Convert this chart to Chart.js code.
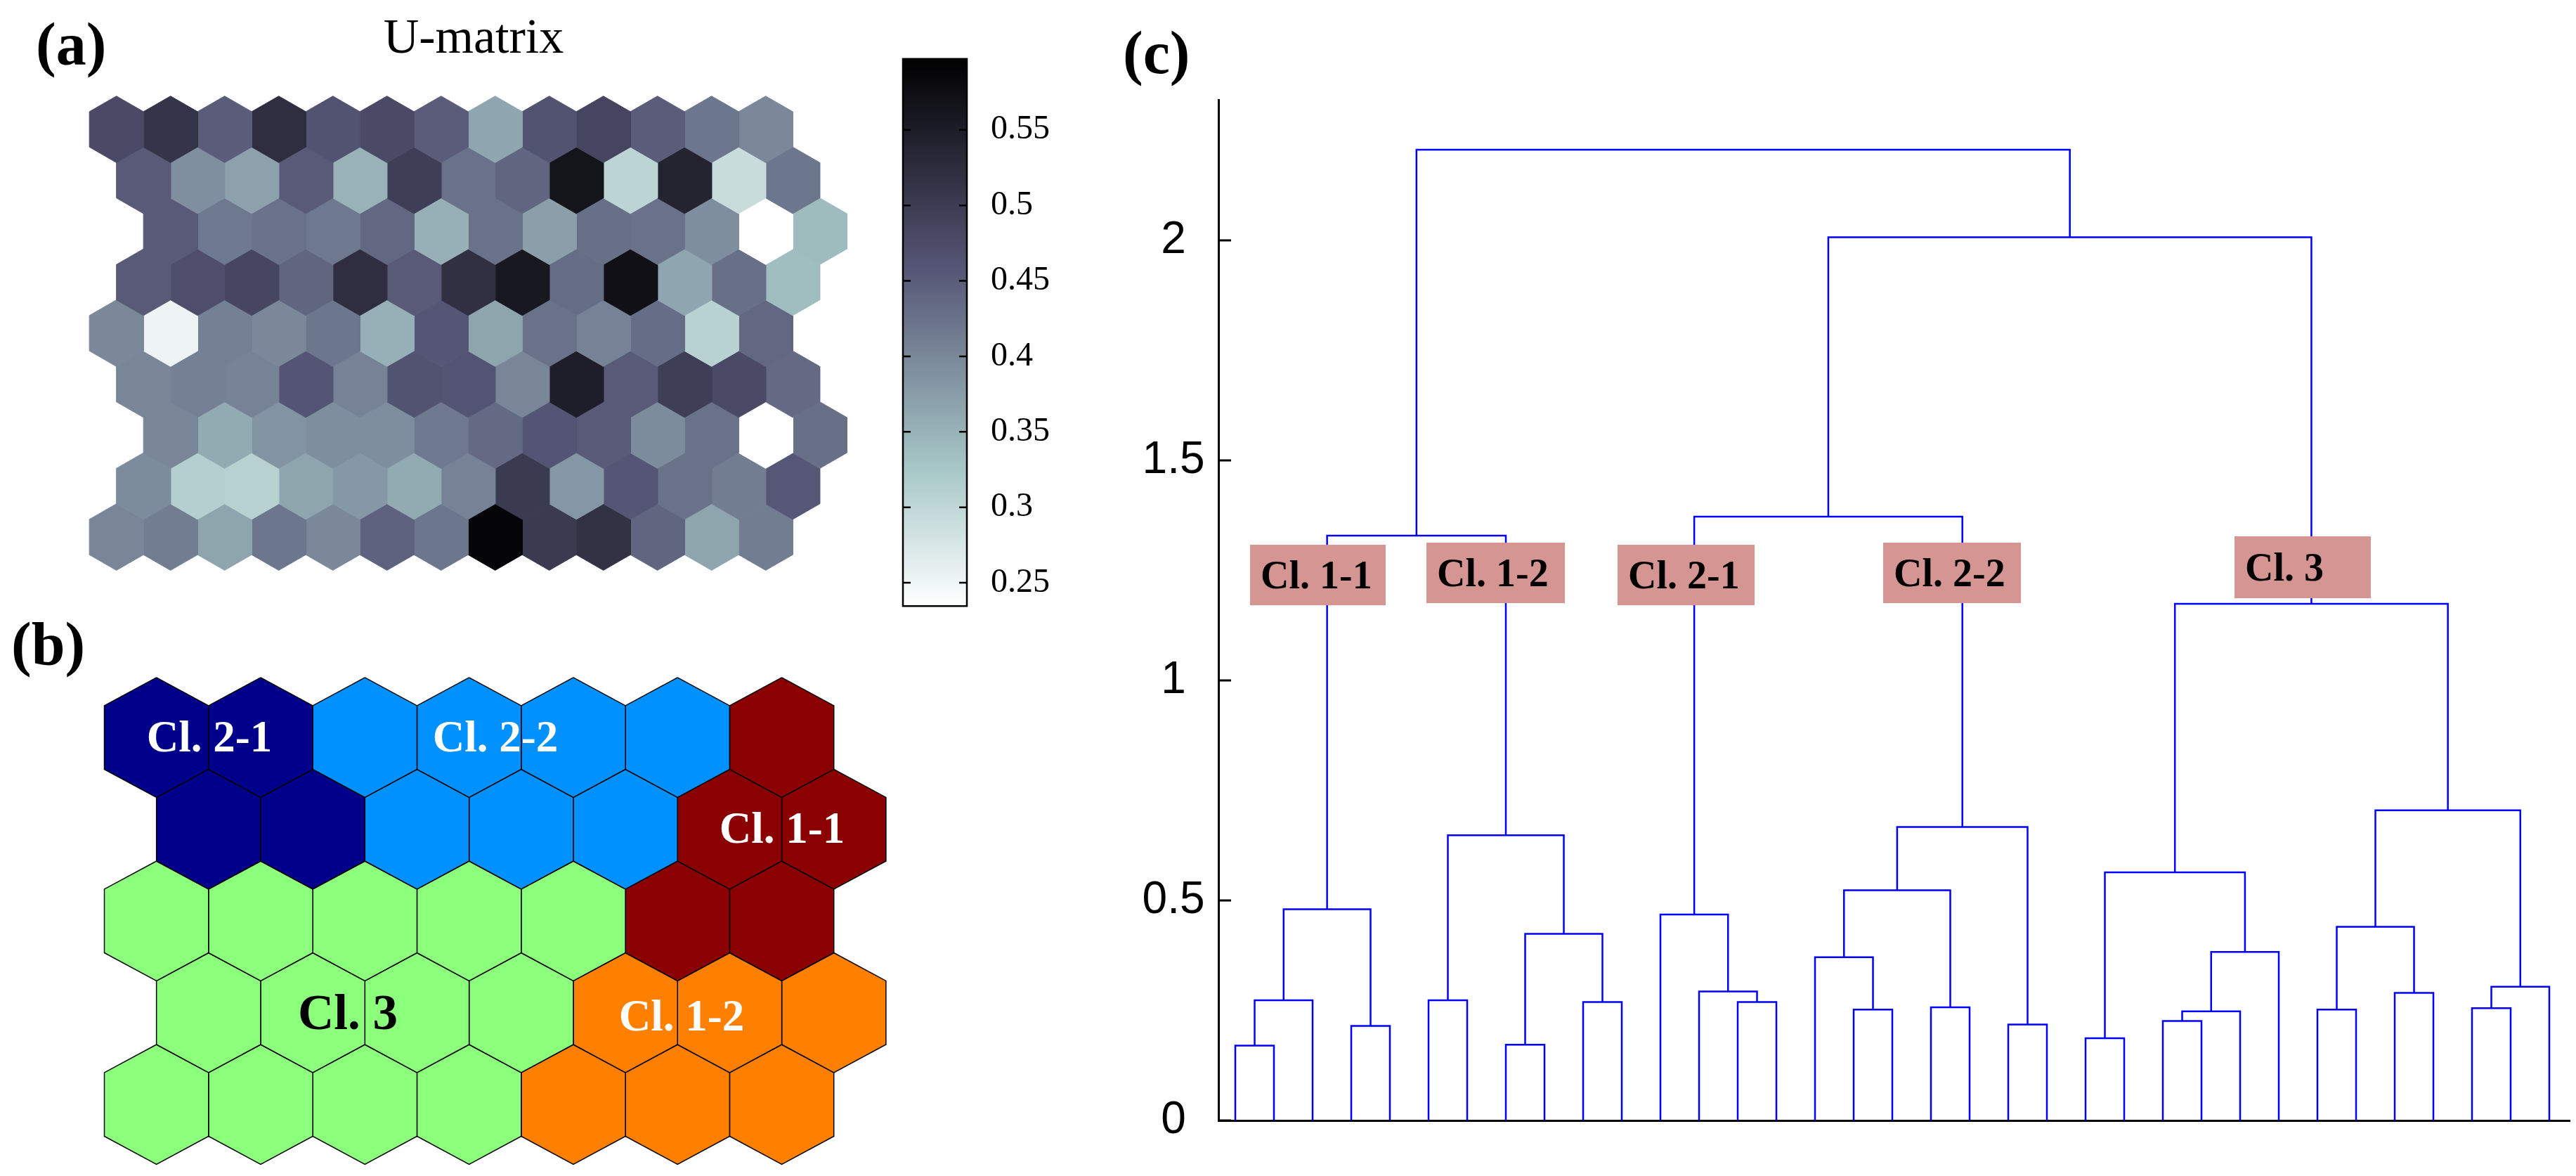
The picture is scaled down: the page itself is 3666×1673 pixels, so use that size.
<!DOCTYPE html>
<html>
<head>
<meta charset="utf-8">
<title>SOM U-matrix, cluster map and dendrogram</title>
<script src="https://cdn.jsdelivr.net/npm/chart.js"></script>
<style>
  html, body { margin: 0; padding: 0; background: #fff; }
  body { position: relative; width: 3666px; height: 1673px; overflow: hidden; font-family: "Liberation Serif", serif; }
  canvas { position: absolute; }
  .txt { position: absolute; white-space: nowrap; line-height: 1; color: #000; }
  .panel { font-weight: bold; font-size: 86px; }
  .hexlabel { font-weight: bold; font-size: 63px; color: #fff; transform: translateX(-50%); }
  .box { position: absolute; background: #d59592; font-weight: bold; font-size: 56px; color: #000;
         padding-left: 15px; box-sizing: border-box; white-space: nowrap; }
</style>
</head>
<body>

<canvas id="umatrix" width="1150" height="740" style="left:100px; top:100px;"></canvas>
<canvas id="colorbar" width="400" height="904" style="left:1200px; top:21px;"></canvas>
<canvas id="clusters" width="1250" height="773" style="left:100px; top:900px;"></canvas>
<canvas id="dendrogram" width="2106" height="1588" style="left:1560px; top:85px;"></canvas>

<!-- panel letters and titles -->
<div class="txt panel" style="left:51px; top:20px;">(a)</div>
<div class="txt" style="left:674px; top:17px; font-size:70px; transform:translateX(-50%);">U-matrix</div>
<div class="txt panel" style="left:16px; top:873px;">(b)</div>
<div class="txt panel" style="left:1598px; top:32px;">(c)</div>

<!-- cluster names on the map -->
<div class="txt hexlabel" style="left:298px; top:1017px;">Cl. 2-1</div>
<div class="txt hexlabel" style="left:705px; top:1017px;">Cl. 2-2</div>
<div class="txt hexlabel" style="left:1113px; top:1147px;">Cl. 1-1</div>
<div class="txt hexlabel" style="left:970px; top:1414px;">Cl. 1-2</div>
<div class="txt hexlabel" style="left:495px; top:1405px; font-size:71px; color:#000;">Cl. 3</div>

<!-- cluster boxes on the dendrogram -->
<div class="box" style="left:1779px; top:775px; width:193px; height:86px; line-height:86px;">Cl. 1-1</div>
<div class="box" style="left:2030px; top:772px; width:197px; height:86px; line-height:86px;">Cl. 1-2</div>
<div class="box" style="left:2302px; top:775px; width:195px; height:86px; line-height:86px;">Cl. 2-1</div>
<div class="box" style="left:2680px; top:772px; width:196px; height:86px; line-height:86px;">Cl. 2-2</div>
<div class="box" style="left:3180px; top:763px; width:194px; height:88px; line-height:88px;">Cl. 3</div>

<script>
// U-matrix values, 9 rows x 13 columns, top row first
const umatrix = [
  [0.477, 0.511, 0.451, 0.522, 0.464, 0.477, 0.451, 0.365, 0.464, 0.485, 0.451, 0.421, 0.399],
  [0.454, 0.391, 0.370, 0.454, 0.350, 0.496, 0.425, 0.441, 0.565, 0.304, 0.539, 0.291, 0.421],
  [0.454, 0.418, 0.425, 0.418, 0.438, 0.352, 0.425, 0.373, 0.428, 0.425, 0.392, 0.235, 0.340],
  [0.454, 0.470, 0.483, 0.441, 0.522, 0.454, 0.519, 0.558, 0.431, 0.571, 0.365, 0.428, 0.337],
  [0.399, 0.252, 0.409, 0.399, 0.421, 0.352, 0.459, 0.366, 0.425, 0.405, 0.431, 0.308, 0.438],
  [0.402, 0.409, 0.405, 0.461, 0.405, 0.464, 0.462, 0.402, 0.548, 0.454, 0.496, 0.477, 0.435],
  [0.402, 0.360, 0.386, 0.392, 0.392, 0.418, 0.435, 0.461, 0.454, 0.395, 0.425, 0.235, 0.428],
  [0.395, 0.312, 0.309, 0.366, 0.381, 0.360, 0.405, 0.503, 0.382, 0.459, 0.425, 0.412, 0.457],
  [0.402, 0.412, 0.366, 0.421, 0.399, 0.444, 0.421, 0.589, 0.503, 0.516, 0.441, 0.366, 0.412]
];
// horizontal shift of each U-matrix row (in columns)
const umatrixShift = [0, 0.5, 1, 0.5, 0, 0.5, 1, 0.5, 0];

// colour scale
const colorbarRange = [0.2346, 0.597];
const colorbarTicks = [0.25, 0.3, 0.35, 0.4, 0.45, 0.5, 0.55];

// SOM map 7 x 5, cluster of each unit
const clusterMap = [
  ["2-1", "2-1", "2-2", "2-2", "2-2", "2-2", "1-1"],
  ["2-1", "2-1", "2-2", "2-2", "2-2", "1-1", "1-1"],
  ["3", "3", "3", "3", "3", "1-1", "1-1"],
  ["3", "3", "3", "3", "1-2", "1-2", "1-2"],
  ["3", "3", "3", "3", "1-2", "1-2", "1-2"]
];
const clusterColors = {
  "2-1": "#00008b",
  "2-2": "#0091ff",
  "1-1": "#8b0000",
  "1-2": "#ff8000",
  "3": "#8cff7c"
};

// dendrogram linkage: leaves are 1..35, merge k creates node 36 + k
const leafCount = 35;
const linkLeft = [1, 36, 4, 37, 6, 8, 10, 41, 40, 39, 14, 13, 12, 17, 16, 19, 50, 21, 52, 48,
                  23, 25, 57, 58, 56, 29, 31, 61, 33, 64, 63, 60, 55, 45];
const linkRight = [2, 3, 5, 38, 7, 9, 11, 42, 43, 44, 15, 46, 47, 18, 49, 20, 51, 22, 53, 54,
                   24, 26, 27, 28, 59, 30, 32, 62, 34, 35, 65, 66, 67, 68];
const linkHeight = [0.170, 0.273, 0.215, 0.480, 0.273, 0.172, 0.269, 0.424, 0.648, 1.329,
                    0.269, 0.293, 0.468, 0.252, 0.371, 0.257, 0.523, 0.218, 0.667, 1.372,
                    0.187, 0.226, 0.248, 0.383, 0.564, 0.252, 0.290, 0.440, 0.255, 0.304,
                    0.705, 1.174, 2.007, 2.206];
const dendroTicks = [0, 0.5, 1, 1.5, 2];

// Defaults

Chart.defaults.animation = false;
Chart.defaults.responsive = false;
Chart.defaults.events = [];
Chart.defaults.plugins.legend.display = false;
Chart.defaults.plugins.tooltip.enabled = false;
Chart.defaults.elements.point.radius = 0;
Chart.defaults.elements.line.tension = 0;

// reversed "bone" colormap
function boneReversed(v){
  let t = 1 - (v - colorbarRange[0]) / (colorbarRange[1] - colorbarRange[0]);
  t = Math.min(1, Math.max(0, t));
  const hr = Math.min(1, t / 0.375);
  const hg = Math.min(1, Math.max(0, (t - 0.375) / 0.375));
  const hb = Math.min(1, Math.max(0, (t - 0.75) / 0.25));
  const r = (7 * t + hb) / 8, g = (7 * t + hg) / 8, b = (7 * t + hr) / 8;
  return "rgb(" + Math.round(r * 255) + "," + Math.round(g * 255) + "," + Math.round(b * 255) + ")";
}

// closed hexagon around a cell centre (column units, row units)
function hexagon(cx, cy){
  const tip = 0.653, side = 0.347;
  return [
    {x: cx, y: cy - tip}, {x: cx + 0.5, y: cy - side}, {x: cx + 0.5, y: cy + side},
    {x: cx, y: cy + tip}, {x: cx - 0.5, y: cy + side}, {x: cx - 0.5, y: cy - side},
    {x: cx, y: cy - tip}
  ];
}

function hexOptions(xRange, yRange){
  return {
    layout: {padding: 0},
    scales: {
      x: {type: "linear", display: false, min: xRange[0], max: xRange[1]},
      y: {type: "linear", display: false, reverse: true, min: yRange[0], max: yRange[1]}
    }
  };
}

// (a) U-matrix

const umatrixSets = [];
umatrix.forEach((row, r) => {
  row.forEach((v, c) => {
    const color = boneReversed(v);
    umatrixSets.push({
      data: hexagon(c + umatrixShift[r], r),
      backgroundColor: color,
      borderColor: color,
      borderWidth: 1,
      fill: "shape"
    });
  });
});

new Chart(document.getElementById("umatrix"), {
  type: "line",
  data: {datasets: umatrixSets},
  options: hexOptions([-0.853, 14.082], [-1.159, 9.048])
});

// Colorbar

const colorbarFrame = {
  id: "colorbarFrame",
  afterDatasetsDraw(chart){
    const {ctx, chartArea: a} = chart;
    const y = chart.scales.y;
    ctx.save();
    ctx.strokeStyle = "#000";
    ctx.lineWidth = 2.5;
    ctx.strokeRect(a.left, a.top, a.right - a.left, a.bottom - a.top);
    y.ticks.forEach(t => {
      const py = y.getPixelForValue(t.value);
      ctx.beginPath();
      ctx.moveTo(a.left, py);
      ctx.lineTo(a.left + 11, py);
      ctx.moveTo(a.right, py);
      ctx.lineTo(a.right - 11, py);
      ctx.stroke();
    });
    ctx.restore();
  }
};

new Chart(document.getElementById("colorbar"), {
  type: "bar",
  data: {
    labels: [""],
    datasets: [{
      data: [colorbarRange],
      borderWidth: 0,
      barPercentage: 1,
      categoryPercentage: 1,
      backgroundColor(c){
        const chart = c.chart;
        if(!chart.chartArea) return "#888";
        const y = chart.scales.y;
        const g = chart.ctx.createLinearGradient(0, y.getPixelForValue(colorbarRange[0]), 0, y.getPixelForValue(colorbarRange[1]));
        for(let i = 0; i <= 40; i++){
          const v = colorbarRange[0] + (colorbarRange[1] - colorbarRange[0]) * i / 40;
          g.addColorStop(i / 40, boneReversed(v));
        }
        return g;
      }
    }]
  },
  options: {
    // label overhang (half label + tick padding) sets top/bottom space
    layout: {padding: {left: 85, top: 0, bottom: 0, right: 0}},
    scales: {
      x: {display: false},
      y: {
        position: "right",
        min: colorbarRange[0],
        max: colorbarRange[1],
        afterFit: s => { s.width = 224; },
        afterBuildTicks: s => { s.ticks = colorbarTicks.map(v => ({value: v})); },
        grid: {display: false, drawTicks: false},
        border: {display: false},
        ticks: {
          color: "#000",
          padding: 34,
          font: {family: "Liberation Serif", size: 48},
          callback: v => String(v)
        }
      }
    }
  },
  plugins: [colorbarFrame]
});

// (b) Cluster map

const clusterSets = [];
clusterMap.forEach((row, r) => {
  row.forEach((cl, c) => {
    clusterSets.push({
      data: hexagon(c + (r % 2) * 0.5, r),
      backgroundColor: clusterColors[cl],
      borderColor: "#000",
      borderWidth: 1.5,
      fill: "shape"
    });
  });
});

new Chart(document.getElementById("clusters"), {
  type: "line",
  data: {datasets: clusterSets},
  options: hexOptions([-0.827, 7.601], [-1.143, 4.780])
});

// (c) Dendrogram

const nodeX = [];
const nodeH = [];
for(let i = 1; i <= leafCount; i++){
  nodeX[i] = i;
  nodeH[i] = 0;
}

const dendroSets = linkHeight.map((h, k) => {
  const a = linkLeft[k];
  const b = linkRight[k];
  const id = leafCount + 1 + k;
  nodeX[id] = (nodeX[a] + nodeX[b]) / 2;
  nodeH[id] = h;
  return {
    data: [
      {x: nodeX[a], y: nodeH[a]},
      {x: nodeX[a], y: h},
      {x: nodeX[b], y: h},
      {x: nodeX[b], y: nodeH[b]}
    ],
    borderColor: "#0000ff",
    borderWidth: 2.5,
    fill: false
  };
});

const innerTicks = {
  id: "innerTicks",
  afterDraw(chart){
    const {ctx, chartArea} = chart;
    const y = chart.scales.y;
    ctx.save();
    ctx.strokeStyle = "#000";
    ctx.lineWidth = 3;
    y.ticks.forEach(t => {
      const py = y.getPixelForValue(t.value);
      ctx.beginPath();
      ctx.moveTo(chartArea.left, py);
      ctx.lineTo(chartArea.left + 18, py);
      ctx.stroke();
    });
    ctx.restore();
  }
};

new Chart(document.getElementById("dendrogram"), {
  type: "line",
  data: {datasets: dendroSets},
  options: {
    // top space comes from the tick label overhang (about 58px)
    layout: {padding: {left: 0, top: 0, right: 9, bottom: 79}},
    scales: {
      x: {
        type: "linear",
        min: 0.5636,
        max: 35.527,
        afterFit: s => { s.height = 0; },
        grid: {display: false, drawTicks: false},
        ticks: {display: false},
        border: {display: true, color: "#000", width: 3}
      },
      y: {
        type: "linear",
        min: 0,
        max: 2.318,
        afterFit: s => { s.width = 174; },
        afterBuildTicks: s => { s.ticks = dendroTicks.map(v => ({value: v})); },
        grid: {display: false, drawTicks: false},
        border: {display: true, color: "#000", width: 3},
        ticks: {
          color: "#000",
          crossAlign: "center",
          padding: 19.5,
          font: {family: "Liberation Sans", size: 64},
          callback: v => String(v)
        }
      }
    }
  },
  plugins: [innerTicks]
});
</script>
</body>
</html>
